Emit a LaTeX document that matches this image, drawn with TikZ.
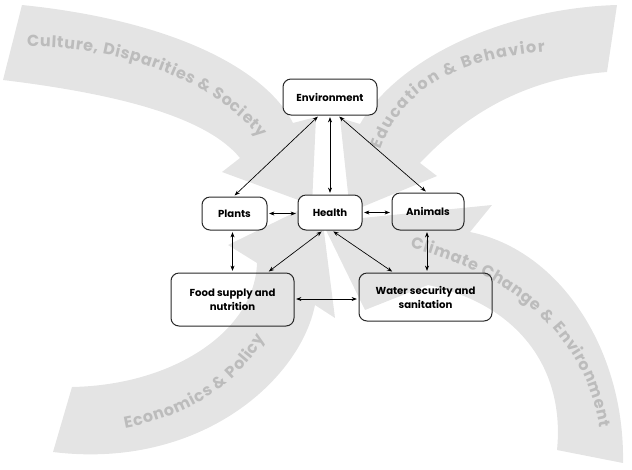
\documentclass[tikz,border=0pt]{standalone}
\usepackage{fontspec}
\setmainfont{Poppins}
\usetikzlibrary{arrows.meta,calc,decorations.text}
\definecolor{band}{RGB}{228,228,228}
\definecolor{bandtext}{RGB}{188,188,188}
\definecolor{boxline}{RGB}{40,40,40}
\begin{document}
\begin{tikzpicture}[x=0.75pt,y=-0.75pt,
  box/.style={draw=boxline,line width=0.75pt,rounded corners=6pt,align=center,
    font=\bfseries\fontsize{7.6}{10.5}\selectfont,inner sep=0pt},
  link/.style={line width=0.5pt,{Stealth[length=4pt,width=3pt]}-{Stealth[length=4pt,width=3pt]},
    shorten <=1.2pt,shorten >=1.2pt},
  bigarrow/.style={fill=band,draw=none},
  bandlabel/.style={decorate,decoration={text along path,text align=fit to path,
    text={|\bfseries\fontsize{12}{12}\selectfont\color{bandtext}|#1}}}
]
\useasboundingbox (0,0) rectangle (632,469);

% ---- big background arrows ----
% Culture, Disparities & Society
\path[bigarrow] (22,5) .. controls (170,20) and (265,68) .. (293,123)
  -- (316,117) -- (312,205) -- (222,172) -- (240,158)
  .. controls (205,115) and (110,93) .. (3,80) -- cycle;
% Education & Behavior
\path[bigarrow] (617,5) .. controls (510,8) and (400,55) .. (360,124)
  -- (340,118) -- (350,212) -- (437,176) -- (420,163)
  .. controls (470,110) and (530,78) .. (607,72) -- cycle;
% Economics & Policy
\path[bigarrow] (53,452) .. controls (200,470) and (300,380) .. (315,305)
  -- (335,318) -- (320,200) -- (228,245) -- (257,263)
  .. controls (255,330) and (175,385) .. (72,387) -- cycle;
% Climate Change & Environment
\path[bigarrow] (623,463) .. controls (625,350) and (560,250) .. (470,232)
  -- (492,205) -- (322,222) -- (365,310) -- (428,285)
  .. controls (520,305) and (565,370) .. (557,450) -- cycle;

% ---- band labels ----
\path[bandlabel={Culture, Disparities {\&} Society}]
  (27,47) .. controls (130,45) and (220,88) .. (260,138);
\path[bandlabel={Education {\&} Behavior}]
  (381,150) .. controls (398,100) and (442,60) .. (545,52);
\path[bandlabel={Economics {\&} Policy}]
  (125,428) .. controls (180,418) and (235,390) .. (265,338);
\path[bandlabel={Climate Change {\&} Environment}]
  (410,248) .. controls (500,270) and (585,330) .. (600,428);

% ---- boxes ----
\node[box,fill=white,minimum width=70.5pt,minimum height=27pt] (env) at (330,97) {Environment};
\node[box,minimum width=48.75pt,minimum height=24.75pt] (plants) at (234.5,213.5) {Plants};
\node[box,fill=white,minimum width=48pt,minimum height=26.25pt] (health) at (330,212.5) {Health};
\node[box,minimum width=54pt,minimum height=27.75pt] (animals) at (428,211.5) {Animals};
\node[box,minimum width=92.25pt,minimum height=39.75pt] (food) at (232.5,299.5) {Food supply and\\nutrition};
\node[box,minimum width=99.75pt,minimum height=36pt] (water) at (425.5,297) {Water security and\\sanitation};

% ---- connectors ----
\draw[link] ($(env.south)+(-11,0)$) -- ($(plants.north)+(-1,0)$);
\draw[link] (env.south) -- (health.north);
\draw[link] ($(env.south)+(8,0)$) -- ($(animals.north)+(-1,0)$);
\draw[link] (plants.east) -- (plants.east -| health.west);
\draw[link] (health.east) -- (health.east -| animals.west);
\draw[link] ($(plants.south)+(-2,0)$) -- ($(plants.south |- food.north)+(-2,0)$);
\draw[link] ($(health.south)+(-7,0)$) -- ($(food.north)+(35,0)$);
\draw[link] ($(health.south)+(2,0)$) -- ($(water.north)+(-32,0)$);
\draw[link] ($(animals.south)+(-1,0)$) -- ($(animals.south |- water.north)+(-1,0)$);
\draw[link] ($(food.east)+(0,-0.5)$) -- ($(food.east -| water.west)+(0,-0.5)$);
\end{tikzpicture}
\end{document}
